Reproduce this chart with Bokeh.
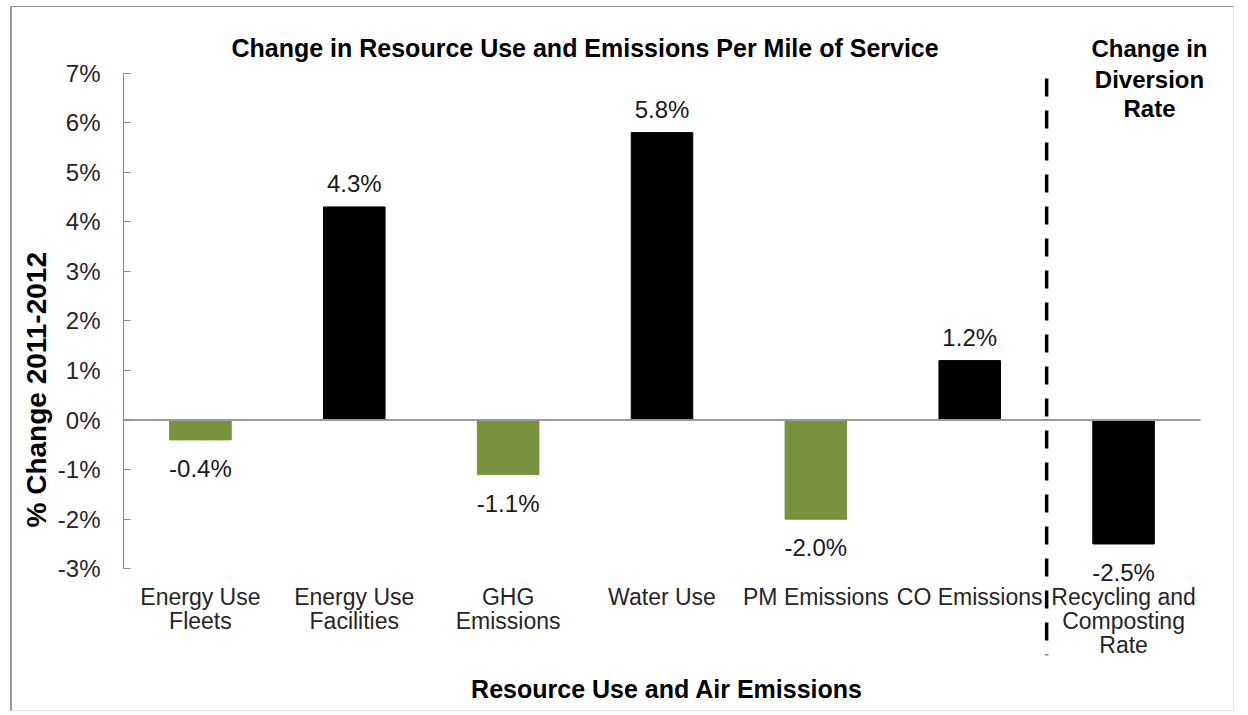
from bokeh.plotting import figure
from bokeh.models import (Range1d, FixedTicker, PrintfTickFormatter, Title,
                          Label, LabelSet, ColumnDataSource, Arrow)
from bokeh.core.properties import value
from bokeh.embed import file_html
from bokeh.resources import INLINE

# ---------------- data ----------------
categories = ["Energy Use\nFleets", "Energy Use\nFacilities", "GHG\nEmissions",
              "Water Use", "PM Emissions", "CO Emissions",
              "Recycling and\nComposting\nRate"]
values = [-0.4, 4.3, -1.1, 5.8, -2.0, 1.2, -2.5]
y_ticks = [-3, -2, -1, 0, 1, 2, 3, 4, 5, 6, 7]

main_title = "Change in Resource Use and Emissions Per Mile of Service"
side_title = ["Change in", "Diversion", "Rate"]
x_title = "Resource Use and Air Emissions"
y_title = "% Change 2011-2012"

# ---------------- styles ----------------
GREEN = "#76923C"
BLACK = "#000000"
bar_colors = [GREEN, BLACK, GREEN, BLACK, GREEN, BLACK, BLACK]
FONT = "Liberation Sans"

n = len(categories)
xs = [i + 0.5 for i in range(n)]          # category centres on the x scale
XPAD = 0.065                               # room on the right for the side title
UNIT = 1077 / n                            # px per category

W, H = 1224, 705
FL, FT = 111, 21                           # frame left / top (px in figure)
FW, FH = round(UNIT * (n + XPAD)), 627     # frame width / height
ymin, ymax = -4.75, 7.9                    # frame extent; the axis spans y_ticks

p = figure(x_range=Range1d(0, n + XPAD), y_range=Range1d(ymin, ymax),
           width=W, height=H, output_backend="svg", toolbar_location=None,
           min_border_left=FL, min_border_top=FT,
           min_border_right=W - FL - FW, min_border_bottom=H - FT - FH)
p.styles = {"margin-left": "10px", "margin-top": "6px",
            "border-left": "2px solid #9a9a9a",
            "border-top": "1px solid #9a9a9a",
            "border-right": "1px solid #e4e4e4",
            "border-bottom": "1px solid #e4e4e4"}
p.outline_line_color = None
p.grid.visible = False
p.background_fill_color = "white"
p.border_fill_color = "white"

def ypx(px):
    """figure pixel row -> data y"""
    return ymax - (px - FT) * (ymax - ymin) / FH

def xpx(px):
    return (px - FL) / UNIT

src = ColumnDataSource(dict(x=xs, top=values, color=bar_colors))
p.vbar(x="x", top="top", bottom=0, width=0.4, color="color", source=src)

# zero line across the categories
p.segment(x0=[0], y0=[0], x1=[n], y1=[0], line_color="#9a9a9a", line_width=2)

# y axis
yax = p.yaxis[0]
yax.ticker = FixedTicker(ticks=y_ticks)
yax.bounds = (y_ticks[0], y_ticks[-1])
yax.formatter = PrintfTickFormatter(format="%d%%")
yax.axis_line_color = "#8c8c8c"
yax.major_tick_line_color = "#8c8c8c"
yax.major_tick_in = 7
yax.major_tick_out = 0
yax.minor_tick_line_color = None
yax.major_label_standoff = 23
yax.major_label_text_font = FONT
yax.major_label_text_font_size = "24px"
yax.major_label_text_color = "#262626"

p.add_layout(Title(text=y_title, align="left", offset=128, standoff=6,
                   text_font=FONT, text_font_size="28px", text_font_style="bold",
                   text_color="#000000"), "left")

# x axis (category labels drawn up beside the -3% level, as in the reference)
xax = p.xaxis[0]
xax.ticker = FixedTicker(ticks=xs)
xax.major_label_overrides = {x: c for x, c in zip(xs, categories)}
xax.axis_line_color = None
xax.major_tick_line_color = None
xax.minor_tick_line_color = None
xax.major_tick_in = 0
xax.major_tick_out = 0
xax.major_label_standoff = -72
xax.major_label_text_font = FONT
xax.major_label_text_font_size = "23px"
xax.major_label_text_color = "#262626"
xax.major_label_text_line_height = 0.94
xax.axis_label = x_title
xax.axis_label_text_font = FONT
xax.axis_label_text_font_size = "25px"
xax.axis_label_text_font_style = "bold"
xax.axis_label_text_color = "#000000"
xax.axis_label_standoff = 14

# data labels
pos = [i for i, v in enumerate(values) if v >= 0]
neg = [i for i, v in enumerate(values) if v < 0]
for idx, base, off in ((pos, "bottom", 10), (neg, "top", -15)):
    s = ColumnDataSource(dict(x=[xs[i] for i in idx],
                              y=[values[i] for i in idx],
                              t=["%.1f%%" % values[i] for i in idx]))
    p.add_layout(LabelSet(x="x", y="y", text="t", source=s, text_align="center",
                          text_baseline=base, y_offset=off, text_font=value(FONT),
                          text_font_size="24px", text_color="#1a1a1a"))

# titles
p.add_layout(Label(x=n / 2 - 0.5, y=ypx(40), text=main_title, text_align="center",
                   text_baseline="middle", text_font=FONT, text_font_size="25px",
                   text_font_style="bold", text_color="#000000"))
for t, row in zip(side_title, (41, 72, 101)):
    p.add_layout(Label(x=xpx(1137), y=ypx(row), text=t, text_align="center",
                       text_baseline="middle", text_font=FONT, text_font_size="24px",
                       text_font_style="bold", text_color="#000000"))

# dashed divider between the two groups
p.add_layout(Arrow(x_start=n - 1, y_start=ypx(71), x_end=n - 1, y_end=ymin,
                   end=None, line_color="#000000", line_width=3.5,
                   line_dash="18 14"))

open("out.html", "w").write(file_html(p, INLINE))
